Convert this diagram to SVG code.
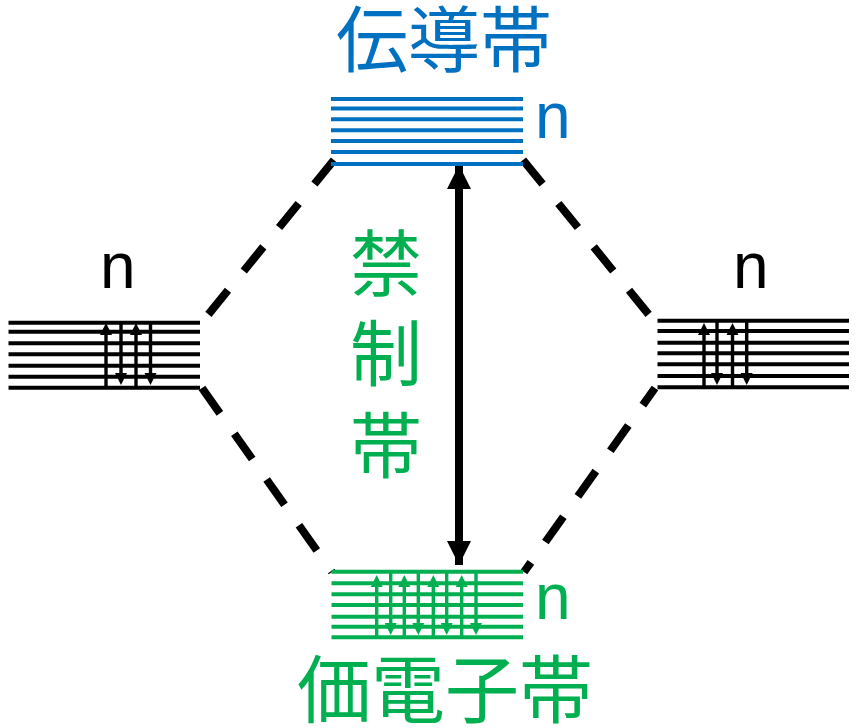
<svg xmlns="http://www.w3.org/2000/svg" width="856" height="728" viewBox="0 0 856 728">
  <style>
    .lvl-blue { stroke: #0070C0; stroke-width: 4; fill: none; }
    .lvl-black { stroke: #000; stroke-width: 4; fill: none; }
    .lvl-green { stroke: #00B050; stroke-width: 4; fill: none; }
    .spin-k { stroke: #000; stroke-width: 3.4; fill: none; }
    .spin-g { stroke: #00B050; stroke-width: 3.4; fill: none; }
    .dash { stroke: #000; stroke-width: 8; fill: none; stroke-dasharray: 31 25; }
    .jp { font-family: "Noto Sans CJK JP", "Noto Sans CJK SC", sans-serif; font-size: 72px; }
    .n { font-family: "Liberation Sans", Arial, sans-serif; font-size: 64px; }
  </style>
  <defs>
    <!-- small spin arrowheads, tip at the origin -->
    <path id="tipUp" d="M-6,12 L0,0 L6,12 z"/>
    <path id="tipDown" d="M-6,-12 L0,0 L6,-12 z"/>
    <marker id="bigHead" viewBox="0 0 24 24" markerWidth="24" markerHeight="24" refX="24" refY="12" orient="auto-start-reverse" markerUnits="userSpaceOnUse">
      <path d="M0,0 L24,12 L0,24 z" fill="#000"/>
    </marker>
  </defs>

  <!-- connectors: dashed correlation lines and the band-gap arrow -->
  <g id="connectors">
    <line class="dash" x1="334" y1="160" x2="203" y2="321"/>
    <line class="dash" x1="202" y1="388" x2="332" y2="572"/>
    <line class="dash" x1="523" y1="160" x2="654" y2="321"/>
    <line class="dash" x1="655" y1="388" x2="524" y2="572" stroke-dashoffset="10"/>
    <line x1="459" y1="165" x2="459" y2="565" stroke="#000" stroke-width="8" marker-start="url(#bigHead)" marker-end="url(#bigHead)"/>
  </g>

  <!-- conduction band (top) -->
  <g id="conduction-band">
    <g class="lvl-blue">
      <line x1="331" y1="99" x2="523" y2="99"/>
      <line x1="331" y1="108.5" x2="523" y2="108.5"/>
      <line x1="331" y1="119.3" x2="523" y2="119.3"/>
      <line x1="331" y1="130.3" x2="523" y2="130.3"/>
      <line x1="331" y1="141" x2="523" y2="141"/>
      <line x1="331" y1="152" x2="523" y2="152"/>
      <line x1="331" y1="164" x2="523" y2="164"/>
    </g>
    <text class="jp" x="444" y="66" text-anchor="middle" fill="#0070C0">伝導帯</text>
    <text class="n" x="535" y="138" fill="#0070C0">n</text>
  </g>

  <!-- atomic levels, left -->
  <g id="left-levels">
    <g class="lvl-black">
      <line x1="8.5" y1="322.7" x2="200" y2="322.7"/>
      <line x1="8.5" y1="331.7" x2="200" y2="331.7"/>
      <line x1="8.5" y1="343.3" x2="200" y2="343.3"/>
      <line x1="8.5" y1="354.3" x2="200" y2="354.3"/>
      <line x1="8.5" y1="365.7" x2="200" y2="365.7"/>
      <line x1="8.5" y1="376.7" x2="200" y2="376.7"/>
      <line x1="8.5" y1="387.7" x2="200" y2="387.7"/>
    </g>
    <g class="spin-k">
      <line x1="106" y1="389" x2="106" y2="334"/>
      <line x1="121" y1="321" x2="121" y2="374"/>
      <line x1="136" y1="389" x2="136" y2="334"/>
      <line x1="150.5" y1="321" x2="150.5" y2="374"/>
    </g>
    <g fill="#000">
      <use href="#tipUp" x="106" y="323"/>
      <use href="#tipDown" x="121" y="385"/>
      <use href="#tipUp" x="136" y="323"/>
      <use href="#tipDown" x="150.5" y="385"/>
    </g>
    <text class="n" x="100" y="288">n</text>
  </g>

  <!-- atomic levels, right -->
  <g id="right-levels">
    <g class="lvl-black">
      <line x1="657.5" y1="320.7" x2="849" y2="320.7"/>
      <line x1="657.5" y1="331" x2="849" y2="331"/>
      <line x1="657.5" y1="342.7" x2="849" y2="342.7"/>
      <line x1="657.5" y1="353.3" x2="849" y2="353.3"/>
      <line x1="657.5" y1="364.3" x2="849" y2="364.3"/>
      <line x1="657.5" y1="376" x2="849" y2="376"/>
      <line x1="657.5" y1="387.3" x2="849" y2="387.3"/>
    </g>
    <g class="spin-k">
      <line x1="704" y1="389" x2="704" y2="334"/>
      <line x1="717" y1="319" x2="717" y2="374"/>
      <line x1="732.5" y1="389" x2="732.5" y2="334"/>
      <line x1="746.7" y1="319" x2="746.7" y2="374"/>
    </g>
    <g fill="#000">
      <use href="#tipUp" x="704" y="323"/>
      <use href="#tipDown" x="717" y="385"/>
      <use href="#tipUp" x="732.5" y="323"/>
      <use href="#tipDown" x="746.7" y="385"/>
    </g>
    <text class="n" x="733" y="288">n</text>
  </g>

  <!-- valence band (bottom) -->
  <g id="valence-band">
    <g class="lvl-green">
      <line x1="331.5" y1="571.7" x2="523" y2="571.7"/>
      <line x1="331.5" y1="583.3" x2="523" y2="583.3"/>
      <line x1="331.5" y1="594.3" x2="523" y2="594.3"/>
      <line x1="331.5" y1="605" x2="523" y2="605"/>
      <line x1="331.5" y1="616.7" x2="523" y2="616.7"/>
      <line x1="331.5" y1="626.7" x2="523" y2="626.7"/>
      <line x1="331.5" y1="637.3" x2="523" y2="637.3"/>
    </g>
    <g class="spin-g">
      <line x1="376.7" y1="638" x2="376.7" y2="586"/>
      <line x1="390.7" y1="570" x2="390.7" y2="624"/>
      <line x1="404.3" y1="638" x2="404.3" y2="586"/>
      <line x1="418.3" y1="570" x2="418.3" y2="624"/>
      <line x1="433.3" y1="638" x2="433.3" y2="586"/>
      <line x1="446.7" y1="570" x2="446.7" y2="624"/>
      <line x1="461.7" y1="638" x2="461.7" y2="586"/>
      <line x1="476" y1="570" x2="476" y2="624"/>
    </g>
    <g fill="#00B050">
      <use href="#tipUp" x="376.7" y="575"/>
      <use href="#tipDown" x="390.7" y="635"/>
      <use href="#tipUp" x="404.3" y="575"/>
      <use href="#tipDown" x="418.3" y="635"/>
      <use href="#tipUp" x="433.3" y="575"/>
      <use href="#tipDown" x="446.7" y="635"/>
      <use href="#tipUp" x="461.7" y="575"/>
      <use href="#tipDown" x="476" y="635"/>
    </g>
    <text class="jp" x="445" y="717" text-anchor="middle" fill="#00B050" style="font-size:74px">価電子帯</text>
    <text class="n" x="535" y="619" fill="#00B050">n</text>
  </g>

  <!-- band gap label, stacked vertically -->
  <g id="band-gap-label" fill="#00B050">
    <text class="jp" x="386" y="290" text-anchor="middle">禁</text>
    <text class="jp" x="386" y="380" text-anchor="middle">制</text>
    <text class="jp" x="386" y="472" text-anchor="middle">帯</text>
  </g>
</svg>
